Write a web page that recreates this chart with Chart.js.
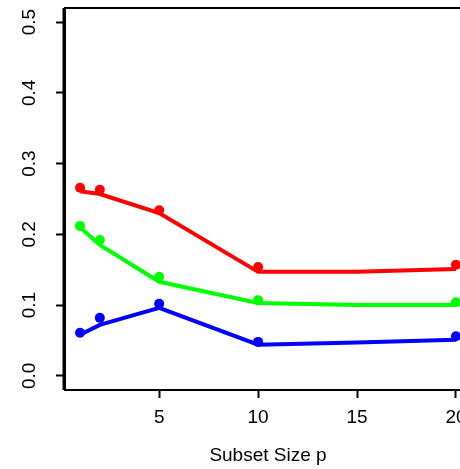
<!DOCTYPE html>
<html>
<head>
<meta charset="utf-8">
<script src="https://cdn.jsdelivr.net/npm/chart.js@4/dist/chart.umd.min.js"></script>
<style>
  html, body { margin: 0; padding: 0; background: #fff; overflow: hidden; }
  #wrap { width: 480px; height: 469px; }
</style>
</head>
<body>
<div id="wrap"><canvas id="chart"></canvas></div>
<script>
// subset sizes where the dots sit
const subsetSizes = [1, 2, 5, 10, 20];
const redPoints = [0.266, 0.263, 0.234, 0.154, 0.157];
const greenPoints = [0.212, 0.192, 0.140, 0.107, 0.104];
const bluePoints = [0.061, 0.082, 0.102, 0.048, 0.056];

// smoothed curves drawn through them
const fitSizes = [1, 2, 5, 10, 15, 20];
const redFit = [0.261, 0.257, 0.230, 0.147, 0.147, 0.151];
const greenFit = [0.210, 0.185, 0.133, 0.103, 0.100, 0.100];
const blueFit = [0.058, 0.072, 0.096, 0.044, 0.047, 0.051];

const xTicks = [5, 10, 15, 20];
const yTicks = [0.0, 0.1, 0.2, 0.3, 0.4, 0.5];

const FONT = 'Liberation Sans, Arial, sans-serif';

function toXY(xs, ys) {
    return xs.map((x, i) => ({ x: x, y: ys[i] }));
}

function pointSet(ys, color) {
    return {
        data: toXY(subsetSizes, ys),
        showLine: false,
        pointRadius: 5,
        pointBackgroundColor: color,
        pointBorderColor: color,
        pointBorderWidth: 0
    };
}

function fitSet(ys, color) {
    return {
        data: toXY(fitSizes, ys),
        showLine: true,
        borderColor: color,
        borderWidth: 4,
        pointRadius: 0,
        fill: false
    };
}

// box round the plot + rotated y labels (R style)
const rFrame = {
    id: 'rFrame',
    afterDraw(chart) {
        const { ctx, chartArea } = chart;
        const yScale = chart.scales.y;
        ctx.save();
        ctx.strokeStyle = '#000';
        ctx.lineWidth = 2;
        ctx.strokeRect(chartArea.left, chartArea.top, chartArea.right - chartArea.left, chartArea.bottom - chartArea.top);
        ctx.lineWidth = 3;
        ctx.beginPath();
        ctx.moveTo(chartArea.left - 1, chartArea.top);
        ctx.lineTo(chartArea.left - 1, chartArea.bottom);
        ctx.stroke();

        ctx.fillStyle = '#000';
        ctx.font = '19px ' + FONT;
        ctx.textAlign = 'center';
        ctx.textBaseline = 'alphabetic';
        yTicks.forEach(v => {
            const py = yScale.getPixelForValue(v);
            ctx.save();
            ctx.translate(35, py);
            ctx.rotate(-Math.PI / 2);
            ctx.fillText(v.toFixed(1), 0, 0);
            ctx.restore();
        });
        ctx.restore();
    }
};

new Chart(document.getElementById('chart'), {
    type: 'scatter',
    plugins: [rFrame],
    data: {
        datasets: [
            fitSet(redFit, '#ff0000'),
            fitSet(greenFit, '#00ff00'),
            fitSet(blueFit, '#0000ff'),
            pointSet(redPoints, '#ff0000'),
            pointSet(greenPoints, '#00ff00'),
            pointSet(bluePoints, '#0000ff')
        ]
    },
    options: {
        responsive: true,
        maintainAspectRatio: false,
        animation: false,
        layout: { padding: { top: 8, right: 9, left: 0, bottom: 0 } },
        plugins: {
            legend: { display: false },
            tooltip: { enabled: false }
        },
        scales: {
            x: {
                type: 'linear',
                min: 0.24,
                max: 20.76,
                afterBuildTicks: (scale) => { scale.ticks = xTicks.map(v => ({ value: v })); },
                afterFit: (scale) => { scale.height = 79; },
                grid: {
                    drawOnChartArea: false,
                    drawTicks: true,
                    tickLength: 8,
                    tickWidth: 2,
                    tickColor: '#000'
                },
                border: { display: false },
                ticks: {
                    color: '#000',
                    padding: 8,
                    maxRotation: 0,
                    font: { family: FONT, size: 19 }
                },
                title: {
                    display: true,
                    text: 'Subset Size p',
                    color: '#000',
                    padding: { top: 0, bottom: 2 },
                    font: { family: FONT, size: 19 }
                }
            },
            y: {
                type: 'linear',
                min: -0.02,
                max: 0.52,
                afterBuildTicks: (scale) => { scale.ticks = yTicks.map(v => ({ value: v })); },
                afterFit: (scale) => { scale.width = 65; },
                grid: {
                    drawOnChartArea: false,
                    drawTicks: true,
                    tickLength: 9,
                    tickWidth: 2,
                    tickColor: '#000'
                },
                border: { display: false },
                ticks: { display: false }
            }
        }
    }
});
</script>
</body>
</html>
